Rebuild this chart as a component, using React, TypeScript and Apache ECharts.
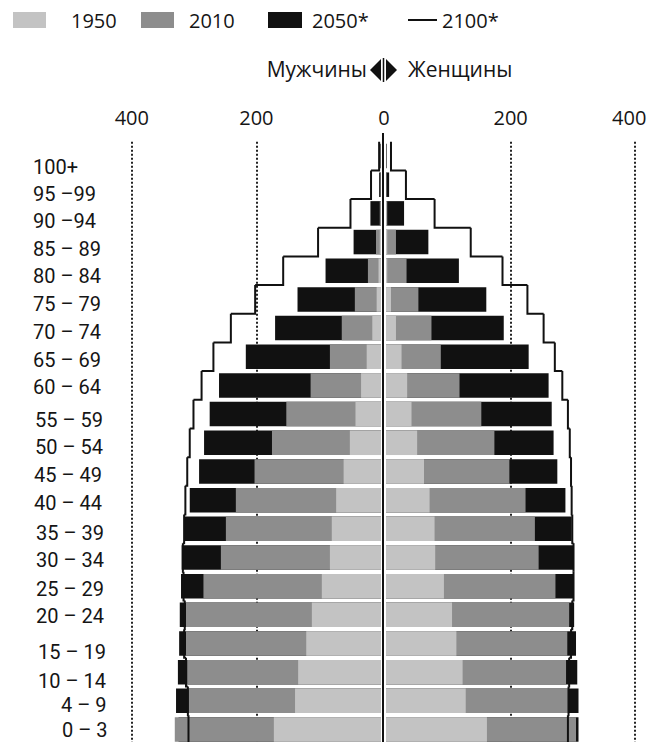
import React, { useEffect, useRef } from 'react';
import * as echarts from 'echarts';

// ---------- data ----------
const ageGroups = ['100+', '95 –99', '90 –94', '85 – 89', '80 – 84', '75 – 79', '70 – 74', '65 – 69', '60 – 64', '55 – 59', '50 – 54', '45 – 49', '40 – 44', '35 – 39', '30 – 34', '25 – 29', '20 – 24', '15 – 19', '10 – 14', '4 – 9', '0 – 3'];
const axisTicks = [0, 200, 400];

const men1950 = [0, 0, 0, 2, 4, 7, 14, 23, 32, 41, 50, 60, 72, 79, 82, 95, 111, 120, 133, 138, 172];
const men2010 = [0, 1, 2, 8, 21, 42, 63, 82, 113, 152, 175, 203, 233, 249, 257, 285, 313, 313, 311, 309, 331];
const men2050 = [1, 3, 17, 44, 89, 134, 170, 217, 260, 275, 284, 292, 307, 316, 320, 321, 323, 324, 326, 329, 325];
const men2100 = [3, 16, 49, 101, 157, 202, 241, 269, 288, 301, 307, 311, 314, 316, 318, 317, 315, 316, 313, 310, 309];

const women1950 = [0, 0, 1, 2, 2, 8, 16, 25, 34, 41, 50, 61, 70, 78, 79, 93, 106, 113, 123, 128, 162];
const women2010 = [0, 1, 2, 16, 33, 52, 73, 88, 118, 153, 174, 198, 224, 239, 245, 272, 294, 291, 289, 292, 305];
const women2050 = [1, 5, 29, 68, 117, 161, 189, 229, 261, 266, 269, 275, 288, 298, 301, 301, 302, 305, 307, 309, 309];
const women2100 = [8, 32, 78, 136, 187, 227, 253, 271, 283, 292, 295, 297, 298, 299, 301, 301, 299, 297, 294, 293, 292];

const legendNames = ['1950', '2010', '2050*', '2100*'];
const sideTitles = ['Мужчины', 'Женщины'];

// ---------- layout / style ----------
const FONT = "'Open Sans', 'Noto Sans', sans-serif";
const LABEL_FONT = "Roboto, 'Open Sans', sans-serif";
const TXT = '#151515';
const C1950 = '#c3c3c3';
const C2010 = '#8d8d8d';
const C2050 = '#111111';
const LINE = '#111111';

const SCALE = 0.623; // px per unit
const MAXV = axisTicks[axisTicks.length - 1];
const W = MAXV * SCALE;
const LEFT_ZERO = 381;
const RIGHT_ZERO = 386;
const ROW = 28.675;
const GRID_TOP = 141.7;
const GRID_H = ROW * ageGroups.length;
const LABEL_X = 33;

// per-label nudges [dx, dy] to mimic the hand-set labels
const labelNudge = [
  [0, 11], [0, 9.5], [0, 7.5], [0, 7], [0, 5.5], [0, 5], [0, 3.5], [0, 3.5], [0, 1.5], [2, 5.5], [2, 4],
  [1, 4], [1, 3], [3, 4], [3, 3], [3, 2.5], [3, 1.5], [5, 8.5], [5, 8.5], [28, 4], [29, 0.5],
];

const labelText = { fontSize: 20, fontFamily: FONT, color: TXT };
const catText = { fontSize: 20, fontFamily: LABEL_FONT, color: TXT };

const labelRich: any = {};
labelNudge.forEach(([dx, dy], i) => {
  labelRich['n' + i] = { ...catText, padding: [2 * dy, 0, 0, dx] };
});

const outlineData = (vals: number[]) =>
  vals.map((v, i) => [v, i, i < vals.length - 1 ? vals[i + 1] : v]);

const renderStep = (params: any, api: any) => {
  const v = api.value(0);
  const c = api.value(1);
  const nv = api.value(2);
  const p = api.coord([v, c]);
  const h = Math.abs(api.coord([0, 1])[1] - api.coord([0, 0])[1]);
  const top = p[1] - h / 2;
  const bot = p[1] + h / 2;
  const pts: number[][] = [[p[0], top], [p[0], bot]];
  if (c < ageGroups.length - 1) {
    const q = api.coord([nv, c]);
    pts.push([q[0], bot]);
  }
  return {
    type: 'polyline',
    shape: { points: pts },
    style: { stroke: LINE, lineWidth: 2, fill: 'none' },
  };
};

const bar = (name: string, data: number[], color: string, g: number) => ({
  type: 'bar',
  name,
  data,
  xAxisIndex: g,
  yAxisIndex: g,
  barWidth: 24.5,
  barGap: '-100%',
  itemStyle: { color },
  silent: true,
});

const outline = (data: number[], g: number) => ({
  type: 'custom',
  name: '2100*',
  xAxisIndex: g,
  yAxisIndex: g,
  data: outlineData(data),
  encode: { x: 0, y: 1 },
  renderItem: renderStep,
  itemStyle: { color: LINE },
  z: 5,
  silent: true,
});

const valueAxis = (g: number, inverse: boolean, formatter: (v: number) => string, rich: any) => ({
  gridIndex: g,
  type: 'value',
  min: 0,
  max: MAXV,
  interval: 200,
  inverse,
  position: 'top',
  axisLine: { show: false },
  axisTick: { show: false },
  splitLine: {
    show: true,
    showMinLine: false,
    lineStyle: { type: [2, 2], width: 2, color: '#222' },
  },
  axisLabel: { ...labelText, margin: 14, formatter, rich },
});

const legendItem = (name: string, left: number, w: number, h: number, color: string, gap: number) => ({
  data: [{ name, icon: 'rect', itemStyle: { color } }],
  left,
  top: 10,
  padding: 0,
  itemWidth: w,
  itemHeight: h,
  selectedMode: false,
  textStyle: { ...labelText, padding: [0, 0, 0, gap] },
});

const option: any = {
  animation: false,
  backgroundColor: '#ffffff',
  textStyle: { fontFamily: FONT },
  legend: [
    legendItem(legendNames[0], 13, 33, 16, C1950, 20),
    legendItem(legendNames[1], 141, 33, 16, C2010, 10),
    legendItem(legendNames[2], 268, 34, 16, C2050, 5),
    legendItem(legendNames[3], 408, 29, 2, LINE, 0),
  ],
  grid: [
    { left: LEFT_ZERO - W, top: GRID_TOP, width: W, height: GRID_H, containLabel: false, outerBoundsMode: 'none' },
    { left: RIGHT_ZERO, top: GRID_TOP, width: W, height: GRID_H, containLabel: false, outerBoundsMode: 'none' },
  ],
  xAxis: [
    valueAxis(0, true, (v) => (v === 0 ? '{z|0}' : String(v)), {
      z: { ...labelText, padding: [0, 0, 0, 6] },
    }),
    valueAxis(1, false, (v) => (v === 0 ? '' : v === MAXV ? '{r|' + v + '}' : String(v)), {
      r: { ...labelText, padding: [0, 12, 0, 0] },
    }),
  ],
  yAxis: [
    {
      gridIndex: 0,
      type: 'category',
      inverse: true,
      data: ageGroups,
      axisLine: { show: false },
      axisTick: { show: false },
      axisLabel: {
        ...catText,
        align: 'left',
        margin: LEFT_ZERO - W - LABEL_X,
        formatter: (value: string, index: number) => '{n' + index + '|' + value + '}',
        rich: labelRich,
      },
    },
    {
      gridIndex: 1,
      type: 'category',
      inverse: true,
      data: ageGroups,
      show: false,
    },
  ],
  series: [
    bar(legendNames[2], men2050, C2050, 0),
    bar(legendNames[1], men2010, C2010, 0),
    bar(legendNames[0], men1950, C1950, 0),
    bar(legendNames[2], women2050, C2050, 1),
    bar(legendNames[1], women2010, C2010, 1),
    bar(legendNames[0], women1950, C1950, 1),
    outline(men2100, 0),
    outline(women2100, 1),
  ],
  graphic: [
    {
      type: 'text',
      x: 367,
      y: 69,
      style: { text: sideTitles[0], font: `21px ${FONT}`, fill: TXT, textAlign: 'right', textVerticalAlign: 'middle', align: 'right', verticalAlign: 'middle' },
    },
    {
      type: 'polygon',
      shape: { points: [[370, 70], [381, 59], [381, 81]] },
      style: { fill: '#111' },
    },
    {
      type: 'line',
      shape: { x1: 383.5, y1: 58, x2: 383.5, y2: 82 },
      style: { stroke: '#111', lineWidth: 1.5 },
    },
    {
      type: 'polygon',
      shape: { points: [[386, 59], [386, 81], [397, 70]] },
      style: { fill: '#111' },
    },
    {
      type: 'text',
      x: 408,
      y: 69,
      style: { text: sideTitles[1], font: `21px ${FONT}`, fill: TXT, textAlign: 'left', textVerticalAlign: 'middle', align: 'left', verticalAlign: 'middle' },
    },
    {
      type: 'line',
      z: 100,
      shape: { x1: 383, y1: 133, x2: 383, y2: 742 },
      style: { stroke: '#111', lineWidth: 2 },
    },
  ],
};

export default function App() {
  const ref = useRef<HTMLDivElement>(null);
  useEffect(() => {
    const chart = echarts.init(ref.current!, null, { renderer: 'svg' });
    chart.setOption(option);
    return () => chart.dispose();
  }, []);
  return (
    <div
      ref={ref}
      style={{ position: 'fixed', left: 0, top: 0, width: 649, height: 742, background: '#fff' }}
    />
  );
}
